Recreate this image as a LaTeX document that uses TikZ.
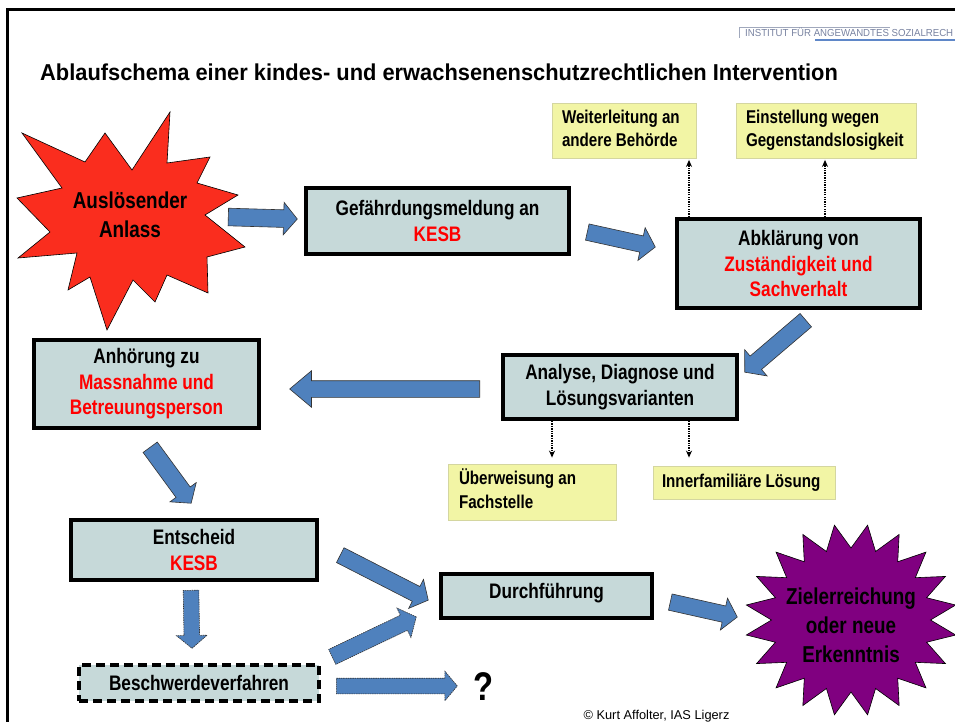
\documentclass[tikz,border=0pt]{standalone}
\usepackage{fontspec}
\setmainfont[FakeStretch=0.82]{Liberation Sans}
\newfontfamily\plainsans{Liberation Sans}
\newfontfamily\titlefont[FakeStretch=0.95]{Liberation Sans}
\usetikzlibrary{shapes.arrows,calc,arrows.meta}
\definecolor{boxfill}{RGB}{198,217,217}
\definecolor{arrowblue}{RGB}{79,129,189}
\definecolor{ylw}{RGB}{242,245,165}
\definecolor{ylwborder}{RGB}{212,214,160}
\definecolor{starred}{RGB}{250,45,30}
\definecolor{starpurple}{RGB}{128,0,128}
\definecolor{logogray}{RGB}{120,130,160}
\definecolor{logoblue}{RGB}{95,135,200}
\definecolor{kesbred}{RGB}{255,0,0}
\tikzset{
  mainbox/.style={draw=black, line width=4pt, fill=boxfill, align=center, inner sep=0pt,
    font=\fontsize{21}{25.5}\selectfont\bfseries},
  dashbox/.style={mainbox, dash pattern=on 9pt off 5pt},
  ybox/.style={draw=ylwborder, line width=0.8pt, fill=ylw, inner sep=0pt,
    font=\fontsize{18.5}{23.5}\selectfont\bfseries},
  barrow/.style 2 args={single arrow, draw=black!80, line width=0.6pt, fill=arrowblue,
    inner xsep=0pt, inner ysep={(#2)/2}, single arrow head indent=0pt, single arrow tip angle=100,
    minimum width=#1, single arrow head extend={(#1-#2)/2}},
  dashedarrow/.style={dash pattern=on 1.5pt off 0.8pt},
  dotarrow/.style={line width=1.3pt, dash pattern=on 1.3pt off 1.1pt, -{Stealth[length=7pt,width=6pt]}},
  startext/.style={align=center, font=\fontsize{23}{29}\selectfont\bfseries},
}
\newcommand\blockarrow[5][]{%
  \path let \p1=(#2), \p2=(#3), \n1={atan2(\y2-\y1,\x2-\x1)}, \n2={veclen(\x2-\x1,\y2-\y1)} in
  node[#5,#1,rotate=\n1,minimum height=\n2,anchor=tail] (#4) at (#2) {};}
\newcommand\ytext[2]{\makebox[#1][l]{\begin{tabular}{@{}l@{}}#2\end{tabular}}}
\begin{document}
\begin{tikzpicture}[x=1pt,y=-1pt]
\useasboundingbox (0,0) rectangle (955,722);
% frame
\draw[line width=3pt] (7,722) -- (7,10) -- (956,10);
% logo
\draw[logogray!70, line width=0.8pt] (739,38) -- (739,27) -- (890,27);
\draw[logoblue, line width=2.5pt] (815,40) -- (956,40);
\node[anchor=west, inner sep=0pt, text=logogray] (logo) at (745,32.5)
  {\resizebox{208pt}{8.5pt}{\plainsans INSTITUT FÜR ANGEWANDTES SOZIALRECH}};
% title
\node[anchor=west, inner sep=0pt, font=\titlefont\fontsize{23}{27}\selectfont\bfseries] (title) at (40,72)
  {Ablaufschema einer kindes- und erwachsenenschutzrechtlichen Intervention};
% red star
\filldraw[fill=starred, draw=black, line width=0.6pt]
  (22,133) -- (85,162) -- (105,133) -- (132,170) -- (170,112) -- (167,163) -- (210,157)
  -- (197,183) -- (238,195) -- (205,215) -- (245,247) -- (207,257) -- (208,293) -- (167,275)
  -- (155,302) -- (133,280) -- (107,330) -- (90,277) -- (68,290) -- (77,253) -- (18,258)
  -- (50,232) -- (17,198) -- (62,188) -- cycle;
\node[startext] (anlass) at (130,215) {Auslösender\\Anlass};
% purple star
\filldraw[fill=starpurple, draw=black, line width=0.6pt]
  ({851+106*cos(81)},{620-96*sin(81)}) \foreach[evaluate=\i as \r using {mod(\i,2)==0?1:0.75}, evaluate=\i as \a using {81+\i*9}] \i in {1,...,39}
  { -- ({851+106*\r*cos(\a)},{620-96*\r*sin(\a)}) } -- cycle;
\node[startext] (ziel) at (851,625) {Zielerreichung\\oder neue\\Erkenntnis};
% main boxes
\node[mainbox, minimum width=263pt, minimum height=66pt] (meldung) at (437.5,221)
  {Gefährdungsmeldung an\\\textcolor{kesbred}{KESB}};
\node[mainbox, minimum width=243pt, minimum height=89pt] (abkl) at (798.5,263.5)
  {Abklärung von\\\textcolor{kesbred}{Zuständigkeit und}\\\textcolor{kesbred}{Sachverhalt}};
\node[mainbox, minimum width=234pt, minimum height=64pt] (analyse) at (620,387)
  {Analyse, Diagnose und\\Lösungsvarianten};
\node[mainbox, minimum width=225pt, minimum height=88pt] (anh) at (146.5,384)
  {Anhörung zu\\\textcolor{kesbred}{Massnahme und}\\\textcolor{kesbred}{Betreuungsperson}};
\node[mainbox, minimum width=246pt, minimum height=60pt] (entsch) at (194,550)
  {Entscheid\\\textcolor{kesbred}{KESB}};
\node[mainbox, minimum width=211pt, minimum height=44pt] (durch) at (546.5,596)
  {\raisebox{-2pt}[0pt][0pt]{Durchführung}};
\node[dashbox, minimum width=240pt, minimum height=36pt] (beschw) at (199,683)
  {Beschwerdeverfahren};
% yellow boxes
\node[ybox, minimum width=144pt, minimum height=55pt] (weiter) at (624,130.5)
  {\ytext{124pt}{Weiterleitung an\\andere Behörde}};
\node[ybox, minimum width=180pt, minimum height=55pt] (einst) at (826,130.5)
  {\ytext{160pt}{Einstellung wegen\\Gegenstandslosigkeit}};
\node[ybox, minimum width=168pt, minimum height=56pt] (ueber) at (532,492)
  {\ytext{146pt}{Überweisung an\\Fachstelle}};
\node[ybox, minimum width=182pt, minimum height=33pt] (inner) at (744,482.5)
  {\ytext{164pt}{Innerfamiliäre Lösung}};
% dotted arrows
\draw[dotarrow, shorten >=1.5pt] ([xshift=14pt]abkl.north west) -- ([xshift=14pt]abkl.north west |- weiter.south);
\draw[dotarrow, shorten >=1.5pt] ([xshift=150pt]abkl.north west) -- ([xshift=150pt]abkl.north west |- einst.south);
\draw[dotarrow, shorten >=6pt] ([xshift=51pt]analyse.south west) -- ([xshift=51pt]analyse.south west |- ueber.north);
\draw[dotarrow, shorten >=8pt] ([xshift=188pt]analyse.south west) -- ([xshift=188pt]analyse.south west |- inner.north);
% question mark
\node[font=\fontsize{40}{40}\selectfont\bfseries, inner sep=0pt] (frage) at (484,687) {?};
% copyright
\node[font=\plainsans\fontsize{12.8}{14}\selectfont, inner sep=0pt] (copy) at (656.5,716.5) {© Kurt Affolter, IAS Ligerz};
% block arrow end points
\coordinate (a1t) at (228,217); \coordinate (a1h) at (297,219);
\coordinate (a2t) at (587,232); \coordinate (a2h) at (655,247);
\coordinate (a3t) at (806,320); \coordinate (a3h) at (745,372);
\coordinate (a4t) at (480,389); \coordinate (a4h) at (290,389);
\coordinate (a5t) at (150,447); \coordinate (a5h) at (191,503);
\coordinate (a6t) at (340,555); \coordinate (a6h) at (428,600);
\coordinate (a7t) at (332,657); \coordinate (a7h) at (416,617);
\coordinate (a8t) at (191,590); \coordinate (a8h) at (192,648);
\coordinate (a9t) at (336,686); \coordinate (a9h) at (457,686);
\coordinate (a10t) at (670,602); \coordinate (a10h) at (737,617);
\blockarrow{a1t}{a1h}{arr1}{barrow={32pt}{17pt}}
\blockarrow{a2t}{a2h}{arr2}{barrow={33pt}{16pt}}
\blockarrow{a3t}{a3h}{arr3}{barrow={34pt}{17pt}}
\blockarrow[single arrow tip angle=80]{a4t}{a4h}{arr4}{barrow={36pt}{16pt}}
\blockarrow{a5t}{a5h}{arr5}{barrow={32pt}{17pt}}
\blockarrow{a6t}{a6h}{arr6}{barrow={32pt}{16pt}}
\blockarrow[dashedarrow]{a7t}{a7h}{arr7}{barrow={32pt}{16pt}}
\blockarrow[dashedarrow]{a8t}{a8h}{arr8}{barrow={30pt}{15pt}}
\blockarrow[dashedarrow]{a9t}{a9h}{arr9}{barrow={29pt}{15pt}}
\blockarrow{a10t}{a10h}{arr10}{barrow={32pt}{16pt}}
\end{tikzpicture}
\end{document}
